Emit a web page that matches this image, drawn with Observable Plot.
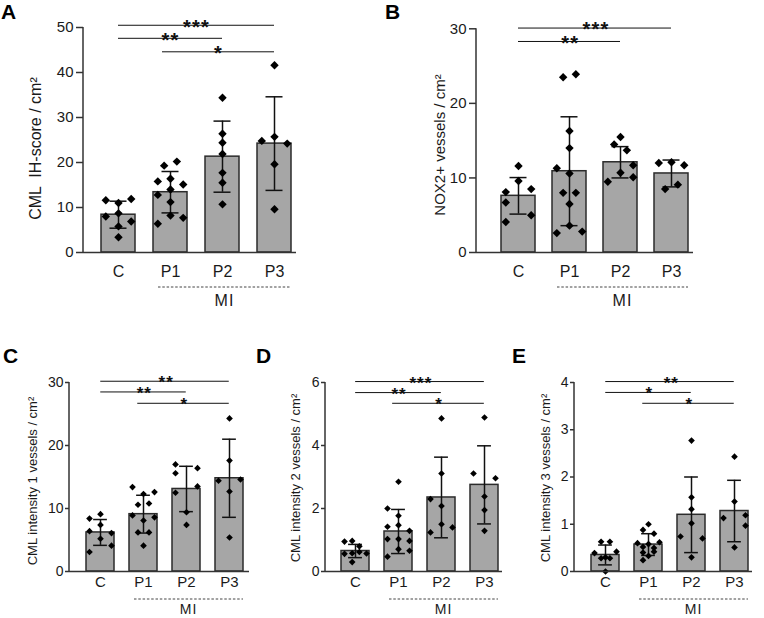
<!DOCTYPE html>
<html>
<head>
<meta charset="utf-8">
<script src="https://cdn.jsdelivr.net/npm/d3@7"></script>
<script src="https://cdn.jsdelivr.net/npm/@observablehq/plot@0.6"></script>
<style>
  html, body { margin: 0; padding: 0; background: #fff; }
  #fig { position: relative; width: 764px; height: 618px; overflow: hidden; background: #fff; }
  #fig svg { position: absolute; left: 0; top: 0; }
</style>
</head>
<body>
<div id="fig"></div>
<script>
const groups = ["C", "P1", "P2", "P3"];

// ---------- Panel A : CML IH-score / cm² ----------
const aMeans = [8.4, 13.4, 21.3, 24.2];
const aSds = [3.0, 4.6, 7.9, 10.4];
const aC  = [11.6, 11.0, 11.9, 8.7, 8.0, 6.9, 5.8, 3.4];
const aP1 = [19.3, 20.2, 15.8, 16.4, 15.1, 14.0, 12.8, 11.2, 8.2, 7.7, 6.4];
const aP2 = [34.4, 26.4, 24.4, 21.9, 17.7, 15.5, 10.7];
const aP3 = [41.6, 24.8, 25.7, 24.2, 19.6, 9.6];
const aCCol  = [-1, 0, 1, 0, -1, 1, 0, 0];
const aP1Col = [-0.5, 0.5, -1, 0, 1, 0, -1, 0, 0, 1, -1];
const aP2Col = [0, 0, 0, 0, 0, 0, 0];
const aP3Col = [0, -1, 0, 1, 0, 0];
const aTicks = [0, 10, 20, 30, 40, 50];
const aSigFrom = ["C", "C", "P1"], aSigTo = ["P3", "P2", "P3"];
const aSigY = [50.5, 47.6, 44.6], aSigLabel = ["***", "**", "*"];

// ---------- Panel B : NOX2+ vessels / cm² ----------
const bMeans = [7.6, 10.9, 12.1, 10.6];
const bSds = [2.45, 7.3, 2.1, 1.8];
const bC  = [11.6, 9.6, 8.1, 8.5, 6.7, 5.0, 4.1];
const bP1 = [23.5, 23.9, 16.3, 14.0, 11.3, 10.6, 8.0, 8.0, 6.5, 3.6, 2.6, 2.8];
const bP2 = [15.5, 14.5, 13.7, 11.7, 10.7, 9.5, 10.1];
const bP3 = [12.0, 12.1, 11.7, 8.5, 9.1];
const bCCol  = [0, 0, -1, 1, -1, 1, -1];
const bP1Col = [-0.5, 0.5, 0, 0, -1, 0, -0.5, 0.5, 0, 0, -1, 1];
const bP2Col = [0, -0.5, 0.5, 1, 0, -1, 1];
const bP3Col = [-1, 0, 1, -0.5, 0.5];
const bTicks = [0, 10, 20, 30];
const bSigFrom = ["C", "C"], bSigTo = ["P3", "P2"];
const bSigY = [30.1, 28.3], bSigLabel = ["***", "**"];

// ---------- Panel C : CML intensity 1 vessels / cm² ----------
const cMeans = [6.2, 9.1, 13.1, 14.8];
const cSds = [2.05, 3.0, 3.6, 6.2];
const cC  = [8.4, 9.1, 7.4, 6.4, 6.1, 5.2, 4.1, 3.1];
const cP1 = [13.4, 12.3, 12.6, 10.6, 10.8, 8.9, 8.6, 8.1, 6.2, 6.2, 4.1];
const cP2 = [17.0, 15.6, 16.4, 13.5, 12.5, 9.4, 7.4];
const cP3 = [24.3, 17.6, 14.4, 14.6, 12.7, 5.4];
const cCCol  = [-1, 0, 0, -1, 1, 0, 1, -1];
const cP1Col = [-1, 0, 1, -0.5, 0.5, -1, 1, 0, -0.5, 0.5, 0];
const cP2Col = [-1, -1, 1, 1, -1, 0, 0];
const cP3Col = [0, 0, -1, 1, 0, 0];
const cTicks = [0, 10, 20, 30];
const cSigFrom = ["C", "C", "P1"], cSigTo = ["P3", "P2", "P3"];
const cSigY = [30.2, 28.5, 26.7], cSigLabel = ["**", "**", "*"];

// ---------- Panel D : CML intensity 2 vessels / cm² ----------
const dMeans = [0.65, 1.27, 2.35, 2.75];
const dSds = [0.21, 0.7, 1.28, 1.24];
const dC  = [0.95, 0.97, 0.80, 0.56, 0.58, 0.62, 0.57, 0.30];
const dP1 = [2.85, 2.0, 1.77, 1.42, 1.47, 1.29, 1.03, 1.03, 0.97, 0.71, 0.47, 0.66];
const dP2 = [4.86, 3.11, 2.3, 2.08, 1.5, 1.24, 1.4];
const dP3 = [4.89, 3.11, 2.96, 2.38, 1.95, 1.29];
const dCCol  = [-1, -0.3, 0.35, -1, -0.3, 0.35, 1, -0.3];
const dP1Col = [0, -1, 0, -1, 0, 1, -1, 0, 1, 0, -1, 1];
const dP2Col = [0, 0, -1, 0, 0, -1, 1];
const dP3Col = [0, -1, 1, 0, 0, 0];
const dTicks = [0, 2, 4, 6];
const dSigFrom = ["C", "C", "P1"], dSigTo = ["P3", "P2", "P3"];
const dSigY = [6.03, 5.68, 5.34], dSigLabel = ["***", "**", "*"];

// ---------- Panel E : CML intensity 3 vessels / cm² ----------
const eMeans = [0.35, 0.57, 1.2, 1.28];
const eSds = [0.21, 0.23, 0.8, 0.65];
const eC  = [0.63, 0.63, 0.39, 0.42, 0.28, 0.28, 0.30, 0.0];
const eP1 = [1.00, 0.88, 0.80, 0.60, 0.62, 0.58, 0.52, 0.50, 0.42, 0.40, 0.33, 0.24];
const eP2 = [2.77, 1.57, 1.32, 1.02, 0.74, 0.70, 0.30];
const eP3 = [2.43, 1.48, 1.13, 1.19, 0.97, 0.51];
const eCCol  = [-0.4, 0.4, -1, 1, -0.4, 0.4, 0, 0];
const eP1Col = [0, -0.5, 0.5, -1, 1, 0, -0.5, 0.5, 0.5, -0.5, 0, -0.5];
const eP2Col = [0, 0, 0, 0, -1, 1, 0];
const eP3Col = [0, 0, -1, 1, 1, 0];
const eTicks = [0, 1, 2, 3, 4];
const eSigFrom = ["C", "C", "P1"], eSigTo = ["P3", "P2", "P3"];
const eSigY = [4.02, 3.79, 3.56], eSigLabel = ["**", "*", "*"];

const groupLabel = "MI";
const FONT = '"Liberation Sans", Arial, Helvetica, sans-serif';
const W = 764, H = 618;

const topStyle = {dotR: 3.8, colPx: 12.7, tickSize: 7, tickPad: 3, tickFont: 15, xFont: 16, xPad: 13,
  starSize: 20, sigLead: 8, dashDy: 35, miDy: 54, miFont: 16};
const botStyle = {dotR: 3.0, colPx: 11, tickSize: 4, tickPad: 2, tickFont: 14, xFont: 15, xPad: 5,
  starSize: 17, sigLead: 6, dashDy: 28, miDy: 43, miFont: 14};

const panels = [
  {letter: "A", letterAt: [1, 19], label: "CML  IH-score / cm²", labelSize: 16, labelAt: [41, 148.5],
   means: aMeans, sds: aSds, values: [aC, aP1, aP2, aP3], cols: [aCCol, aP1Col, aP2Col, aP3Col], ticks: aTicks,
   sigFrom: aSigFrom, sigTo: aSigTo, sigY: aSigY, sigLabel: aSigLabel,
   geom: {axisX: 83, endX: 296, yTop: 27, yZero: 252, firstBar: 101, step: 52, bw: 34}, ...topStyle},
  {letter: "B", letterAt: [385, 19], label: "NOX2+ vessels / cm²", labelSize: 15, labelAt: [445, 145],
   means: bMeans, sds: bSds, values: [bC, bP1, bP2, bP3], cols: [bCCol, bP1Col, bP2Col, bP3Col], ticks: bTicks,
   sigFrom: bSigFrom, sigTo: bSigTo, sigY: bSigY, sigLabel: bSigLabel,
   geom: {axisX: 476, endX: 693, yTop: 28.3, yZero: 252, firstBar: 499, step: 51.7, bw: 34}, ...topStyle},
  {letter: "C", letterAt: [3, 363], label: "CML intensity 1 vessels / cm²", labelSize: 13, labelAt: [37, 481],
   means: cMeans, sds: cSds, values: [cC, cP1, cP2, cP3], cols: [cCCol, cP1Col, cP2Col, cP3Col], ticks: cTicks,
   sigFrom: cSigFrom, sigTo: cSigTo, sigY: cSigY, sigLabel: cSigLabel,
   geom: {axisX: 69, endX: 249, yTop: 382, yZero: 571, firstBar: 84, step: 43.8, bw: 28.5}, ...botStyle},
  {letter: "D", letterAt: [256, 363], label: "CML intensity 2 vessels / cm²", labelSize: 13, labelAt: [300, 478],
   means: dMeans, sds: dSds, values: [dC, dP1, dP2, dP3], cols: [dCCol, dP1Col, dP2Col, dP3Col], ticks: dTicks,
   sigFrom: dSigFrom, sigTo: dSigTo, sigY: dSigY, sigLabel: dSigLabel,
   geom: {axisX: 325, endX: 502, yTop: 382, yZero: 571, firstBar: 339.3, step: 43.6, bw: 28.3}, ...botStyle},
  {letter: "E", letterAt: [512, 363], label: "CML intensity 3 vessels / cm²", labelSize: 13, labelAt: [550, 478],
   means: eMeans, sds: eSds, values: [eC, eP1, eP2, eP3], cols: [eCCol, eP1Col, eP2Col, eP3Col], ticks: eTicks,
   sigFrom: eSigFrom, sigTo: eSigTo, sigY: eSigY, sigLabel: eSigLabel,
   geom: {axisX: 574, endX: 752, yTop: 382, yZero: 571, firstBar: 588.3, step: 43.9, bw: 28.5}, ...botStyle}
];

const ink = "#111";
const axisInk = "#333";

function drawPanel(cfg) {
  const g = cfg.geom;
  const n = groups.length;
  const L = g.endX - g.axisX;
  const pIn = 1 - g.bw / g.step;
  const pOut = Math.max(0, (L / g.step - n + pIn) / 2);
  const align = Math.min(1, Math.max(0, (g.firstBar - g.axisX) / (L - g.step * (n - pIn))));
  const yMax = cfg.ticks[cfg.ticks.length - 1];

  const table = groups.map((k, i) => ({group: k, mean: cfg.means[i], sd: cfg.sds[i]}));
  const pts = [];
  groups.forEach((k, i) => cfg.values[i].forEach((v, j) => pts.push({group: k, value: v, col: cfg.cols[i][j]})));
  const colSet = [...new Set(pts.map(p => p.col))];
  const sig = cfg.sigFrom.map((f, i) => ({from: f, to: cfg.sigTo[i], y: cfg.sigY[i], label: cfg.sigLabel[i]}));

  const marks = [
    Plot.barY(table, {x: "group", y: "mean", fill: "#a6a6a6", stroke: "#2b2b2b", strokeWidth: 1.5}),
    Plot.ruleX(table, {x: "group", y1: d => d.mean - d.sd, y2: d => d.mean + d.sd, stroke: ink, strokeWidth: 1.5}),
    Plot.tickY(table, {x: "group", y: d => d.mean + d.sd, stroke: ink, strokeWidth: 1.5, insetLeft: g.bw / 4, insetRight: g.bw / 4}),
    Plot.tickY(table, {x: "group", y: d => d.mean - d.sd, stroke: ink, strokeWidth: 1.5, insetLeft: g.bw / 4, insetRight: g.bw / 4}),
    ...colSet.map(c => Plot.dot(pts.filter(p => p.col === c), {
      x: "group", y: "value", dx: c * cfg.colPx, symbol: "diamond2", r: cfg.dotR, fill: "#000", stroke: "none"
    })),
    Plot.ruleY([0], {stroke: axisInk, strokeWidth: 1.5}),
    ...sig.flatMap(s => {
      const lead = s.from === groups[0] ? 0 : cfg.sigLead;
      const span = (groups.indexOf(s.to) - groups.indexOf(s.from)) * g.step;
      return [
        Plot.ruleY([s], {x1: "from", x2: "to", y: "y", insetLeft: g.bw / 2 - lead, insetRight: g.bw / 2, stroke: ink, strokeWidth: 1}),
        Plot.text([s], {x: "from", y: "y", text: "label", dx: (span - lead) / 2, dy: 0.47 * cfg.starSize - 1,
          lineAnchor: "bottom", fontSize: cfg.starSize, fontWeight: "bold", fill: ink})
      ];
    }),
    Plot.axisY({ticks: cfg.ticks, tickSize: cfg.tickSize, tickPadding: cfg.tickPad, fontSize: cfg.tickFont,
      label: null, stroke: axisInk, strokeWidth: 1.5, tickFormat: d => String(d)}),
    Plot.axisX({tickSize: 0, tickPadding: cfg.xPad, fontSize: cfg.xFont, label: null})
  ];

  const plot = Plot.plot({
    width: W, height: H,
    marginLeft: g.axisX, marginRight: W - g.endX, marginTop: g.yTop, marginBottom: H - g.yZero,
    x: {type: "band", domain: groups, paddingInner: pIn, paddingOuter: pOut, align},
    y: {domain: [0, yMax]},
    style: {background: "transparent", fontFamily: FONT, color: "#1a1a1a", overflow: "visible"},
    marks
  });

  const svg = d3.select(plot);
  const xs = plot.scale("x"), ys = plot.scale("y");

  // asterisk spacing
  svg.selectAll("text").filter(function () { return /^\*+$/.test(this.textContent); })
    .attr("letter-spacing", cfg.starSize * 0.06);

  // vertical y-axis line
  svg.append("line")
    .attr("x1", g.axisX).attr("x2", g.axisX)
    .attr("y1", ys.apply(0)).attr("y2", ys.apply(yMax))
    .attr("stroke", axisInk).attr("stroke-width", 1.5);

  // dashed MI bracket
  const x1 = xs.apply(groups[1]) + 5;
  const x2 = xs.apply(groups[3]) + xs.bandwidth;
  svg.append("line")
    .attr("x1", x1).attr("x2", x2)
    .attr("y1", g.yZero + cfg.dashDy).attr("y2", g.yZero + cfg.dashDy)
    .attr("stroke", "#444").attr("stroke-width", 1).attr("stroke-dasharray", "2.5,1.8");
  svg.append("text")
    .attr("x", (x1 + x2) / 2).attr("y", g.yZero + cfg.miDy)
    .attr("text-anchor", "middle").attr("font-size", cfg.miFont).attr("font-family", FONT)
    .attr("fill", "#1a1a1a").attr("letter-spacing", 1)
    .text(groupLabel);

  // y-axis title
  svg.append("text")
    .attr("transform", `translate(${cfg.labelAt[0]},${cfg.labelAt[1]}) rotate(-90)`)
    .attr("text-anchor", "middle").attr("font-size", cfg.labelSize).attr("font-family", FONT)
    .attr("fill", "#1a1a1a").style("white-space", "pre")
    .text(cfg.label);

  // panel letter
  svg.append("text")
    .attr("x", cfg.letterAt[0]).attr("y", cfg.letterAt[1])
    .attr("text-anchor", "start")
    .attr("font-size", 21).attr("font-weight", "bold").attr("font-family", FONT)
    .attr("fill", "#000")
    .text(cfg.letter);

  document.getElementById("fig").appendChild(plot);
}

panels.forEach(drawPanel);
</script>
</body>
</html>
